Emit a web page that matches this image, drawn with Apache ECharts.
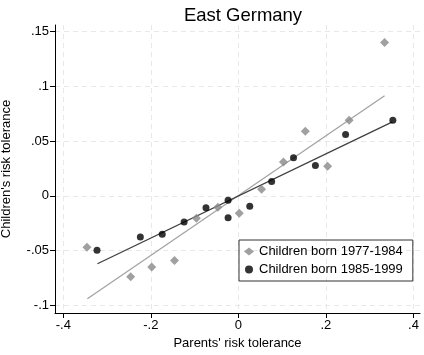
<!DOCTYPE html>
<html><head><meta charset="utf-8">
<script src="https://cdn.jsdelivr.net/npm/echarts@6/dist/echarts.min.js"></script>
<style>html,body{margin:0;padding:0;background:#fff}#c{width:424px;height:355px}</style>
</head><body><div id="c"></div>
<script>
const xTicks = [-0.4, -0.2, 0, 0.2, 0.4];
const yTicks = [-0.1, -0.05, 0, 0.05, 0.1, 0.15];
const olderX = [-0.346, -0.246, -0.198, -0.146, -0.096, -0.047, 0.002, 0.053, 0.103, 0.153, 0.204, 0.253, 0.334];
const olderY = [-0.047, -0.074, -0.065, -0.059, -0.0205, -0.0104, -0.016, 0.006, 0.031, 0.059, 0.027, 0.069, 0.140];
const youngerX = [-0.323, -0.224, -0.174, -0.124, -0.074, -0.0235, -0.0235, 0.026, 0.076, 0.126, 0.176, 0.245, 0.353];
const youngerY = [-0.0497, -0.0375, -0.035, -0.024, -0.011, -0.004, -0.020, -0.0095, 0.013, 0.0347, 0.0276, 0.056, 0.069];
const olderFitX = [-0.345, 0.334];
const olderFitY = [-0.094, 0.0914];
const youngerFitX = [-0.322, 0.352];
const youngerFitY = [-0.062, 0.0675];
const olderName = 'Children born 1977-1984';
const youngerName = 'Children born 1985-1999';

function fmt(v){
  if (Math.abs(v) < 1e-9) return '0';
  let s = String(Math.round(v*1000)/1000);
  return s.replace(/^(-?)0\./, '$1.');
}
const zip = (a,b) => a.map((v,i)=>[v,b[i]]);
const font = '"Liberation Sans", Arial, sans-serif';
const chart = echarts.init(document.getElementById('c'));
chart.setOption({
  animation:false,
  backgroundColor:'#fff',
  title:{text:'East Germany', left:238, top:1, textAlign:'center', textStyle:{fontFamily:font, fontSize:18.5, fontWeight:'normal', color:'#000'}},
  grid:{left:55, right:4, top:25, bottom:42, containLabel:false, outerBoundsMode:'none'},
  xAxis:{type:'value', min:-0.419, max:0.415,
    name:"Parents' risk tolerance", nameLocation:'middle', nameGap:24,
    nameTextStyle:{fontFamily:font, fontSize:13, color:'#000'},
    axisLine:{onZero:false, lineStyle:{color:'#000', width:1}},
    axisTick:{show:true, length:5, customValues:xTicks, lineStyle:{color:'#000'}},
    axisLabel:{customValues:xTicks, formatter:fmt, fontFamily:font, fontSize:13, color:'#000', margin:6},
    splitLine:{show:true, lineStyle:{color:'#e8e8e8', type:[5,4], width:1}}
  },
  yAxis:{type:'value', min:-0.107, max:0.156,
    name:"Children's risk tolerance", nameLocation:'middle', nameGap:42,
    nameTextStyle:{fontFamily:font, fontSize:13, color:'#000'},
    axisLine:{show:true, onZero:false, lineStyle:{color:'#000', width:1}},
    axisTick:{show:true, length:5, customValues:yTicks, lineStyle:{color:'#000'}},
    axisLabel:{customValues:yTicks, formatter:fmt, fontFamily:font, fontSize:13, color:'#000', margin:6},
    splitLine:{show:true, lineStyle:{color:'#e8e8e8', type:[5,4], width:1}}
  },
  legend:{
    orient:'vertical', left:239, top:240, data:[olderName, youngerName],
    borderColor:'#333', borderWidth:1, borderRadius:0, padding:[5,10,5,5],
    itemGap:5, itemWidth:10, itemHeight:8,
    textStyle:{fontFamily:font, fontSize:13, color:'#000'}
  },
  series:[
    {type:'line', name:'fitOld', data:zip(olderFitX, olderFitY), showSymbol:false, symbol:'none',
     lineStyle:{color:'#a3a3a3', width:1.3}, z:2},
    {type:'line', name:'fitYoung', data:zip(youngerFitX, youngerFitY), showSymbol:false, symbol:'none',
     lineStyle:{color:'#3f3f3f', width:1.3}, z:2},
    {type:'scatter', name:olderName, data:zip(olderX, olderY), symbol:'diamond', symbolSize:9,
     itemStyle:{color:'#888888'}, z:3},
    {type:'scatter', name:youngerName, data:zip(youngerX, youngerY), symbol:'circle', symbolSize:7,
     itemStyle:{color:'#000000'}, z:4}
  ]
});
</script></body></html>
